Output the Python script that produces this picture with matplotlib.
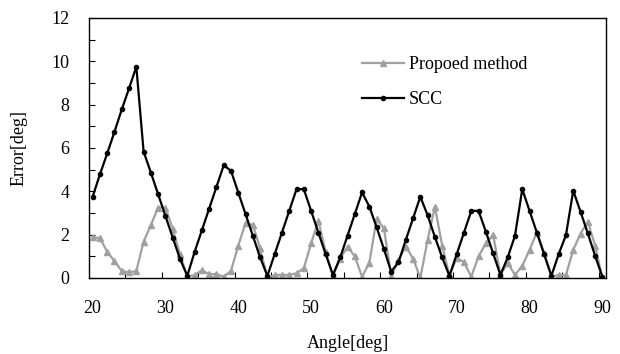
import matplotlib
matplotlib.use("Agg")
import matplotlib.pyplot as plt
from matplotlib.ticker import MultipleLocator, FixedLocator

angles = list(range(20, 91))

# SCC error per angle
scc = [3.75, 4.78, 5.75, 6.75, 7.78, 8.75, 9.75, 5.83, 4.86, 3.86,
       2.86, 1.86, 0.88, 0.10, 1.20, 2.20, 3.20, 4.20, 5.20, 4.95,
       3.94, 2.95, 1.95, 0.95, 0.10, 1.10, 2.10, 3.10, 4.10, 4.10,
       3.10, 2.10, 1.10, 0.14, 0.95, 1.95, 2.95, 3.95, 3.30, 2.34,
       1.34, 0.30, 0.72, 1.75, 2.75, 3.75, 2.90, 1.90, 0.95, 0.10,
       1.10, 2.10, 3.10, 3.10, 2.14, 1.14, 0.14, 0.95, 1.95, 4.10,
       3.10, 2.10, 1.10, 0.10, 1.10, 1.98, 4.03, 3.06, 2.06, 1.03,
       0.06]

# proposed method error per angle
proposed = [1.90, 1.83, 1.21, 0.78, 0.32, 0.26, 0.32, 1.68, 2.45, 3.25,
            3.25, 2.26, 1.09, 0.06, 0.14, 0.35, 0.18, 0.18, 0.06, 0.33,
            1.50, 2.53, 2.45, 1.37, 0.00, 0.14, 0.14, 0.14, 0.22, 0.45,
            1.60, 2.65, 1.20, 0.10, 0.90, 1.45, 1.00, 0.06, 0.70, 2.73,
            2.29, 0.10, 0.83, 1.45, 0.90, 0.00, 1.75, 3.29, 1.50, 0.12,
            0.92, 0.73, 0.06, 1.00, 1.60, 2.00, 0.14, 0.70, 0.14, 0.56,
            1.30, 2.10, 1.14, 0.06, 0.14, 0.14, 1.30, 2.05, 2.60, 1.50,
            0.00]

x_labels = list(range(20, 91, 10))

plt.rcParams['font.family'] = ['Liberation Serif', 'DejaVu Serif']
plt.rcParams['font.size'] = 13

fig = plt.figure(figsize=(6.2, 3.54), dpi=100)
ax = fig.add_axes([89 / 620, 1 - 278 / 354, 517 / 620, 260 / 354])

ax.plot(angles, proposed, color='#a0a0a0', lw=1.6, marker='^', ms=4,
        label='Propoed method')
ax.plot(angles, scc, color='black', lw=1.6, marker='o', ms=3,
        label='SCC')

ax.set_xlim(19.5, 90.5)
ax.set_ylim(0, 12)

ax.xaxis.set_major_locator(FixedLocator(x_labels))
ax.xaxis.set_minor_locator(FixedLocator([24.5 + 5 * i for i in range(14)]))
ax.tick_params(axis='x', which='major', length=0, pad=16)
ax.tick_params(axis='x', which='minor', direction='in', length=4, width=0.8)

ax.yaxis.set_major_locator(MultipleLocator(2))
ax.yaxis.set_minor_locator(MultipleLocator(1))
ax.tick_params(axis='y', which='both', direction='in', length=4, width=0.8, pad=14)

for s in ax.spines.values():
    s.set_linewidth(1.0)
    s.set_color('black')

ax.set_xlabel('Angle[deg]', labelpad=13)
ax.set_ylabel('Error[deg]', labelpad=17)

ax.legend(loc='upper left', bbox_to_anchor=(353 / 620, 1 - 47 / 354),
          bbox_transform=fig.transFigure, frameon=False, borderpad=0,
          handlelength=2.3, labelspacing=1.0, handletextpad=0.3)

fig.savefig('out.png', dpi=100)
